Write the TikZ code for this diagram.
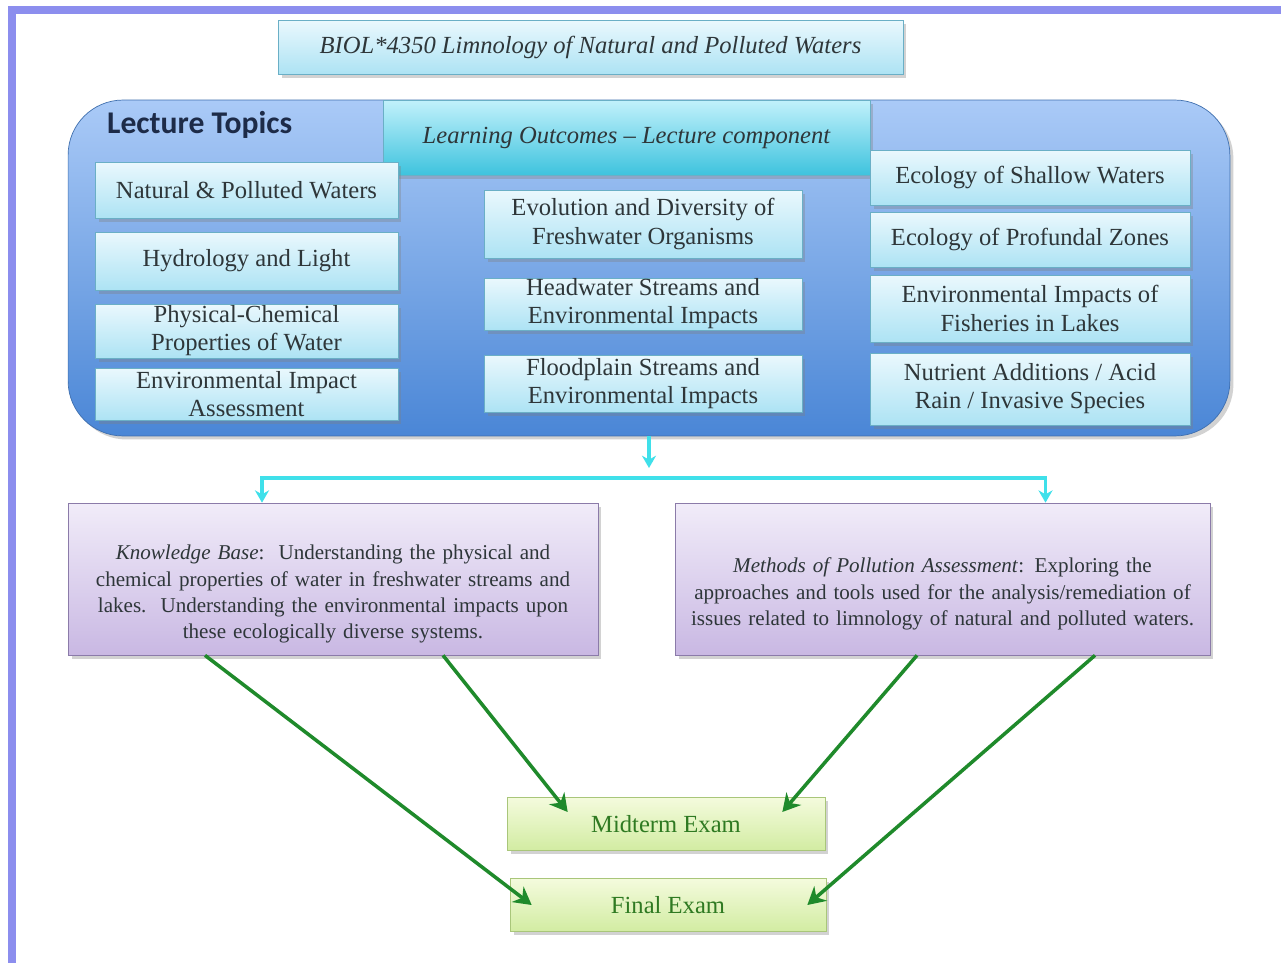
\documentclass[tikz,border=0pt]{standalone}
\usepackage{fontspec}
\setmainfont{Liberation Serif}
\newfontfamily\calibri{Carlito}
\usepackage{tikz}
\usetikzlibrary{positioning,shadows,arrows.meta}
\definecolor{frameblue}{HTML}{8C8EEE}
\definecolor{topictop}{HTML}{EAF8FD}
\definecolor{topicbot}{HTML}{ADE3F4}
\definecolor{topicedge}{HTML}{6AAFC6}
\definecolor{panetop}{HTML}{AACAF7}
\definecolor{panebot}{HTML}{4A86D6}
\definecolor{paneedge}{HTML}{3F6FAE}
\definecolor{outtop}{HTML}{C2F1FB}
\definecolor{outbot}{HTML}{3EC3DE}
\definecolor{violettop}{HTML}{F1ECF9}
\definecolor{violetbot}{HTML}{C9B8E3}
\definecolor{violetedge}{HTML}{8B7BA9}
\definecolor{examtop}{HTML}{F4FBDD}
\definecolor{exambot}{HTML}{D2ECA2}
\definecolor{examedge}{HTML}{A9C67A}
\definecolor{examtext}{HTML}{2F7A22}
\definecolor{flowcyan}{HTML}{3FE0EA}
\definecolor{flowgreen}{HTML}{1F8A2B}
\definecolor{inkgrey}{HTML}{2E3639}
\definecolor{inknavy}{HTML}{1D2B48}
\tikzstyle{lifted} = [drop shadow={opacity=0.35,shadow xshift=2pt,shadow yshift=-2pt}]
\tikzstyle{topic} = [draw=topicedge, top color=topictop, bottom color=topicbot, lifted, align=center, inner sep=0pt, text=inkgrey, font=\fontsize{14}{16}\selectfont]
\tikzstyle{leftcol} = [topic, minimum width=6.06cm]
\tikzstyle{midcol} = [topic, minimum width=6.36cm]
\tikzstyle{rightcol} = [topic, minimum width=6.4cm]
\tikzstyle{heading} = [topic, font=\fontsize{14}{16}\selectfont\itshape]
\tikzstyle{pane} = [draw=paneedge, top color=panetop, bottom color=panebot, rounded corners=1.1cm, lifted]
\tikzstyle{outcome} = [draw=violetedge, top color=violettop, bottom color=violetbot, lifted, align=center, text width=10.5cm, minimum height=3.04cm, inner sep=0pt, text=inkgrey, font=\fontsize{12}{15}\selectfont]
\tikzstyle{exam} = [draw=examedge, top color=examtop, bottom color=exambot, lifted, minimum height=1.06cm, text=examtext, font=\fontsize{14}{16}\selectfont]
\tikzstyle{flow} = [draw=flowcyan, line width=2pt, -{Stealth[length=7pt,width=8pt]}]
\tikzstyle{feed} = [draw=flowgreen, line width=2pt, -{Stealth[length=10pt,width=11pt]}]

\begin{document}
\begin{tikzpicture}[x=0.02cm, y=-0.02cm]
\useasboundingbox (0,0) rectangle (1281,963);
\fill[white] (0,0) rectangle (1281,963);
\fill[frameblue] (8,6) rectangle (1281,14);
\fill[frameblue] (8,6) rectangle (16,963);

\node[heading, minimum width=12.5cm, minimum height=1.08cm] (title) at (590.5, 47) {BIOL*4350 Limnology of Natural and Polluted Waters};

\node[pane, minimum width=23.24cm, minimum height=6.72cm] (lt) at (649, 268) {};
\node[anchor=west, text=inknavy, font=\calibri\bfseries\fontsize{18}{20}\selectfont] (ltlabel) at (101, 125) {Lecture Topics};
\node[heading, draw=topicedge, top color=outtop, bottom color=outbot, minimum width=9.74cm, minimum height=1.5cm] (lo) at (626.5, 137.5) {Learning Outcomes -- Lecture component};

\node[leftcol, minimum height=1.12cm] (nat) at (246.5, 190) {Natural \& Polluted Waters};
\node[leftcol, minimum height=1.16cm] (hyd) at (246.5, 261) {Hydrology and Light};
\node[leftcol, minimum height=1.08cm] (phy) at (246.5, 331) {Physical-Chemical\\Properties of Water};
\node[leftcol, minimum height=1.04cm] (eia) at (246.5, 394) {Environmental Impact\\Assessment};

\node[midcol, minimum height=1.36cm] (evo) at (643, 224) {Evolution and Diversity of\\Freshwater Organisms};
\node[midcol, minimum height=1.04cm] (head) at (643, 304) {Headwater Streams and\\Environmental Impacts};
\node[midcol, minimum height=1.14cm] (flood) at (643, 383.5) {Floodplain Streams and\\Environmental Impacts};

\node[rightcol, minimum height=1.1cm] (shal) at (1030, 177.5) {Ecology of Shallow Waters};
\node[rightcol, minimum height=1.1cm] (prof) at (1030, 239.5) {Ecology of Profundal Zones};
\node[rightcol, minimum height=1.34cm] (fish) at (1030, 308.5) {Environmental Impacts of\\Fisheries in Lakes};
\node[rightcol, minimum height=1.44cm] (nutr) at (1030, 389) {Nutrient Additions / Acid\\Rain / Invasive Species};

\node[outcome, minimum width=10.6cm] (kb) at (333, 579) {\rule{0pt}{0.9cm}\textit{Knowledge Base}:\ \ Understanding the physical and\\chemical properties of water in freshwater streams and\\lakes.\ \ Understanding the environmental impacts upon\\these ecologically diverse systems.};
\node[outcome, minimum width=10.7cm] (mpa) at (942.5, 579) {\rule{0pt}{0.9cm}\textit{Methods of Pollution Assessment}: Exploring the\\approaches and tools used for the analysis/remediation of\\issues related to limnology of natural and polluted waters.};

\node[exam, minimum width=6.36cm] (mid) at (666, 824) {Midterm Exam};
\node[exam, minimum width=6.32cm] (fin) at (668, 905) {Final Exam};

\coordinate (split) at (649, 468);
\coordinate (fork) at (649, 478);
\draw[flow] (lt.south) -- (split);
\draw[flow] (fork) -| ([shift={(-71,0)}]kb.north);
\draw[flow] (fork) -| ([shift={(103,0)}]mpa.north);

\draw[feed] ([shift={(-128,0)}]kb.south) -- ([shift={(22,0)}]fin.west);
\draw[feed] ([shift={(110,0)}]kb.south) -- ([shift={(61,-12)}]mid.west);
\draw[feed] ([shift={(-25.5,0)}]mpa.south) -- ([shift={(-43,-12)}]mid.east);
\draw[feed] ([shift={(152.5,0)}]mpa.south) -- ([shift={(-19,0)}]fin.east);
\end{tikzpicture}
\end{document}
